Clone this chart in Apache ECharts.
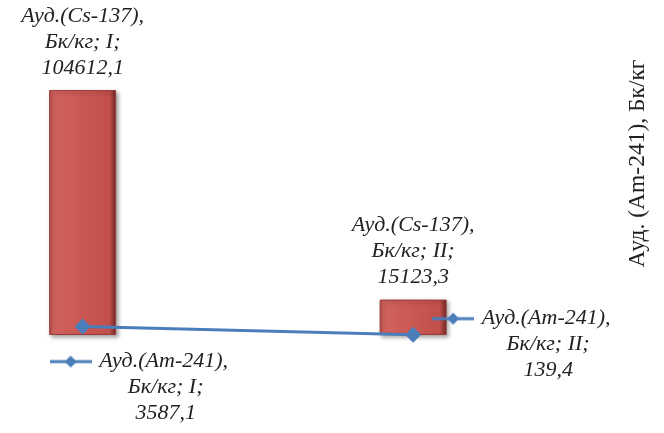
<!DOCTYPE html>
<html><head><meta charset="utf-8">
<script src="https://cdn.jsdelivr.net/npm/echarts@6/dist/echarts.min.js"></script>
<style>html,body{margin:0;padding:0;background:#fff}#c{width:664px;height:433px}</style>
</head><body><div id="c"></div>
<script>
const categories = ['I', 'II'];
const cs137 = [104612.1, 15123.3];
const am241 = [3587.1, 139.4];
const csName = 'Ауд.(Cs-137), Бк/кг';
const amName = 'Ауд.(Am-241), Бк/кг';
const axisTitle = 'Ауд. (Am-241), Бк/кг';

const fmt = v => v.toFixed(1).replace('.', ',');
const LINE = '#4A7EBB';

// legend-key image for data labels
const key = document.createElement('canvas');
key.width = 42; key.height = 14;
(function(){
  const g = key.getContext('2d');
  g.strokeStyle = LINE; g.lineWidth = 3;
  g.beginPath(); g.moveTo(0,7); g.lineTo(42,7); g.stroke();
  g.fillStyle = LINE;
  g.beginPath(); g.moveTo(21,1); g.lineTo(27,7); g.lineTo(21,13); g.lineTo(15,7); g.closePath(); g.fill();
})();

const txt = {fontFamily:'Liberation Serif', fontStyle:'italic', fontSize:22, color:'#222', lineHeight:26};

// category index positions on a numeric x axis
const csData = cs137.map((v, i) => ({value:[i, v], name:categories[i]}));
const amOffsets = [[-33,22],[19,-29]];
const amData = am241.map((v, i) => ({value:[i, v], name:categories[i], label:{offset:amOffsets[i]}}));

const chart = echarts.init(document.getElementById('c'), null, {renderer:'canvas'});
chart.setOption({
  animation:false,
  backgroundColor:'#fff',
  grid:{left:0, right:0, top:54, bottom:98, containLabel:false},
  xAxis:{type:'value', min:-0.25, max:1.759, show:false},
  yAxis:[
    {type:'value', min:0, max:120000, show:false},
    {type:'value', min:0, max:120000, position:'right', offset:-85,
     axisLine:{show:false}, axisTick:{show:false}, axisLabel:{show:false}, splitLine:{show:false},
     name:axisTitle, nameLocation:'middle', nameRotate:90, nameGap:47,
     nameTextStyle:{fontFamily:'Liberation Serif', fontSize:23.5, color:'#222', padding:[0,0,0,62]}}
  ],
  series:[
    {name:csName, type:'bar', data:csData, barWidth:67, yAxisIndex:0,
     itemStyle:{
       color:{type:'linear', x:0, y:0, x2:1, y2:0, colorStops:[
         {offset:0, color:'#B84A46'},{offset:0.06, color:'#D0625D'},{offset:0.5, color:'#CB5752'},
         {offset:0.9, color:'#C24F4B'},{offset:1, color:'#6A2724'}]},
       borderColor:'#9E3B38', borderWidth:1,
       shadowColor:'rgba(0,0,0,0.35)', shadowBlur:4, shadowOffsetX:2, shadowOffsetY:2},
     label:{show:true, position:'top', distance:9,
       formatter:p => `Ауд.(Cs-137),\nБк/кг; ${p.name};\n${fmt(p.value[1])}`,
       fontFamily:'Liberation Serif', fontStyle:'italic', fontSize:22, color:'#222', lineHeight:26, align:'center'}},
    {name:amName, type:'line', data:amData, yAxisIndex:1, z:5,
     lineStyle:{color:LINE, width:3}, itemStyle:{color:LINE},
     symbol:'diamond', symbolSize:16,
     label:{show:true, position:'inside',
       formatter:p => `{k|}{t|Ауд.(Am-241),}\n{s|}{t|Бк/кг; ${p.name};}\n{s|}{t|${fmt(p.value[1])}}`,
       align:'left', verticalAlign:'top',
       rich:{
         k:{backgroundColor:{image:key}, width:42, height:14, lineHeight:26},
         s:{width:46, lineHeight:26},
         t:Object.assign({width:140, align:'center'}, txt)
       }}}
  ]
});
</script></body></html>
